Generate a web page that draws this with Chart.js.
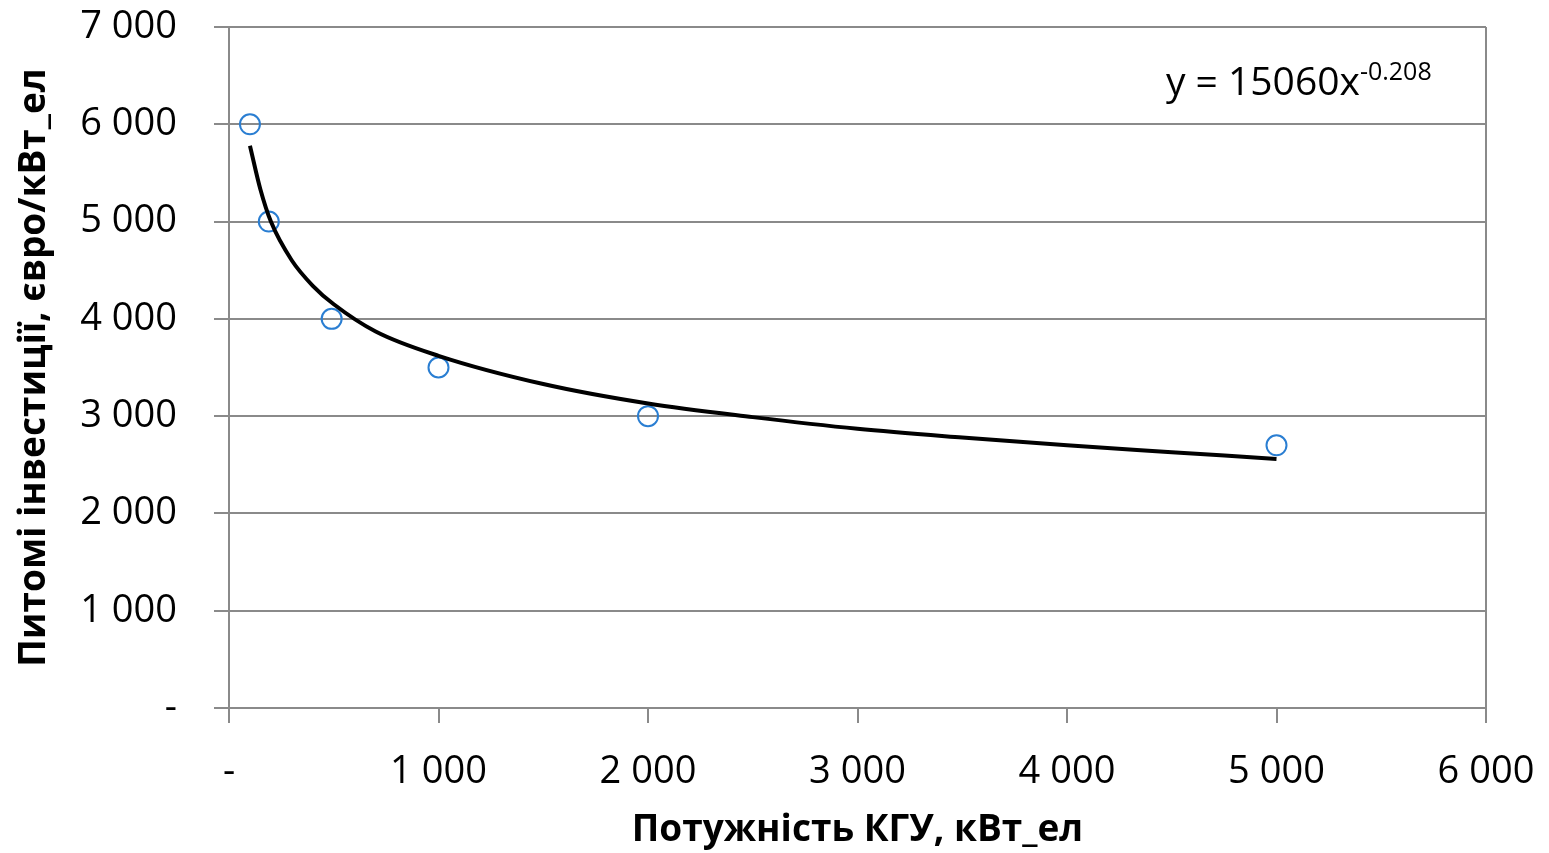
<!DOCTYPE html>
<html>
<head>
<meta charset="utf-8">
<title>Питомі інвестиції</title>
<script src="https://cdn.jsdelivr.net/npm/chart.js@4"></script>
<style>
  html, body { margin: 0; padding: 0; background: #fff; }
  #wrap { width: 1549px; height: 853px; position: relative; }
</style>
</head>
<body>
<div id="wrap"><canvas id="chart"></canvas></div>
<script>
'use strict';

// measured points: КГУ power (kW_el) vs specific investment (EUR/kW_el)
const powerKw = [100, 190, 490, 1000, 2000, 5000];
const costEur = [6000, 5000, 4000, 3500, 3000, 2700];

// power trend line
const trendX = [100, 150, 200, 300, 400, 500, 700, 1000, 1500, 2000, 2500, 3000, 3500, 4000, 4500, 5000];
const trendY = [5780, 5330, 5000, 4600, 4340, 4150, 3870, 3620, 3330, 3130, 2990, 2870, 2780, 2700, 2630, 2560];

const equationMain = 'y = 15060x';
const equationSup = '-0.208';

const xTitle = 'Потужність КГУ, кВт_ел';
const yTitle = 'Питомі інвестиції, євро/кВт_ел';

const GRID = '#8a8a8a';
const FONT = '"Open Sans", "Liberation Sans", sans-serif';

function fmtTick(v) {
  if (v === 0) return '-';
  return String(v).replace(/\B(?=(\d{3})+(?!\d))/g, ' ');
}

const equationPlugin = {
  id: 'equation',
  afterDraw(chart) {
    const { ctx, scales: { x, y } } = chart;
    const px = x.getPixelForValue(4472);
    const py = y.getPixelForValue(6300);
    ctx.save();
    ctx.fillStyle = '#000';
    ctx.textBaseline = 'alphabetic';
    ctx.textAlign = 'left';
    ctx.font = '39px ' + FONT;
    ctx.fillText(equationMain, px, py);
    const w = ctx.measureText(equationMain).width;
    ctx.font = '25px ' + FONT;
    ctx.fillText(equationSup, px + w, py - 15);
    ctx.restore();
  },
};

new Chart(document.getElementById('chart'), {
  type: 'scatter',
  data: {
    datasets: [
      {
        label: 'trend',
        data: trendX.map((v, i) => ({ x: v, y: trendY[i] })),
        showLine: true,
        borderColor: '#000',
        borderWidth: 4,
        pointRadius: 0,
        cubicInterpolationMode: 'monotone',
        fill: false,
      },
      {
        label: 'data',
        data: powerKw.map((v, i) => ({ x: v, y: costEur[i] })),
        showLine: false,
        pointStyle: 'circle',
        pointRadius: 10,
        pointBorderWidth: 2,
        pointBorderColor: '#2a7ed2',
        pointBackgroundColor: 'rgba(0,0,0,0)',
      },
    ],
  },
  options: {
    responsive: true,
    maintainAspectRatio: false,
    animation: false,
    layout: { padding: { top: 27, right: 63, left: 0, bottom: 0 } },
    plugins: {
      legend: { display: false },
      tooltip: { enabled: false },
    },
    scales: {
      x: {
        type: 'linear',
        min: 0,
        max: 6000,
        afterFit: (s) => {
          s.height = 145;
          s.paddingLeft = 0;
          s.paddingRight = 0;
        },
        ticks: {
          stepSize: 1000,
          padding: 26,
          color: '#000',
          font: { size: 38, family: FONT },
          callback: fmtTick,
          maxRotation: 0,
        },
        grid: {
          color: (c) => (c.tick && c.tick.value === 6000 ? GRID : 'rgba(0,0,0,0)'),
          tickColor: GRID,
          tickLength: 15,
          lineWidth: 2,
        },
        border: { color: GRID, width: 2 },
        title: {
          display: true,
          text: xTitle,
          color: '#000',
          font: { size: 37, weight: 'bold', family: FONT },
          padding: { top: 0, bottom: 0 },
        },
      },
      y: {
        type: 'linear',
        min: 0,
        max: 7000,
        afterFit: (s) => {
          s.width = 229;
          s.paddingTop = 0;
          s.paddingBottom = 0;
        },
        ticks: {
          stepSize: 1000,
          padding: 37,
          color: '#000',
          font: { size: 38, family: FONT },
          callback: fmtTick,
        },
        grid: {
          color: GRID,
          tickColor: GRID,
          tickLength: 15,
          lineWidth: 2,
        },
        border: { color: GRID, width: 2 },
        title: {
          display: true,
          text: yTitle,
          color: '#000',
          font: { size: 37, weight: 'bold', family: FONT },
          padding: { top: 12, bottom: 0 },
        },
      },
    },
  },
  plugins: [equationPlugin],
});
</script>
</body>
</html>
